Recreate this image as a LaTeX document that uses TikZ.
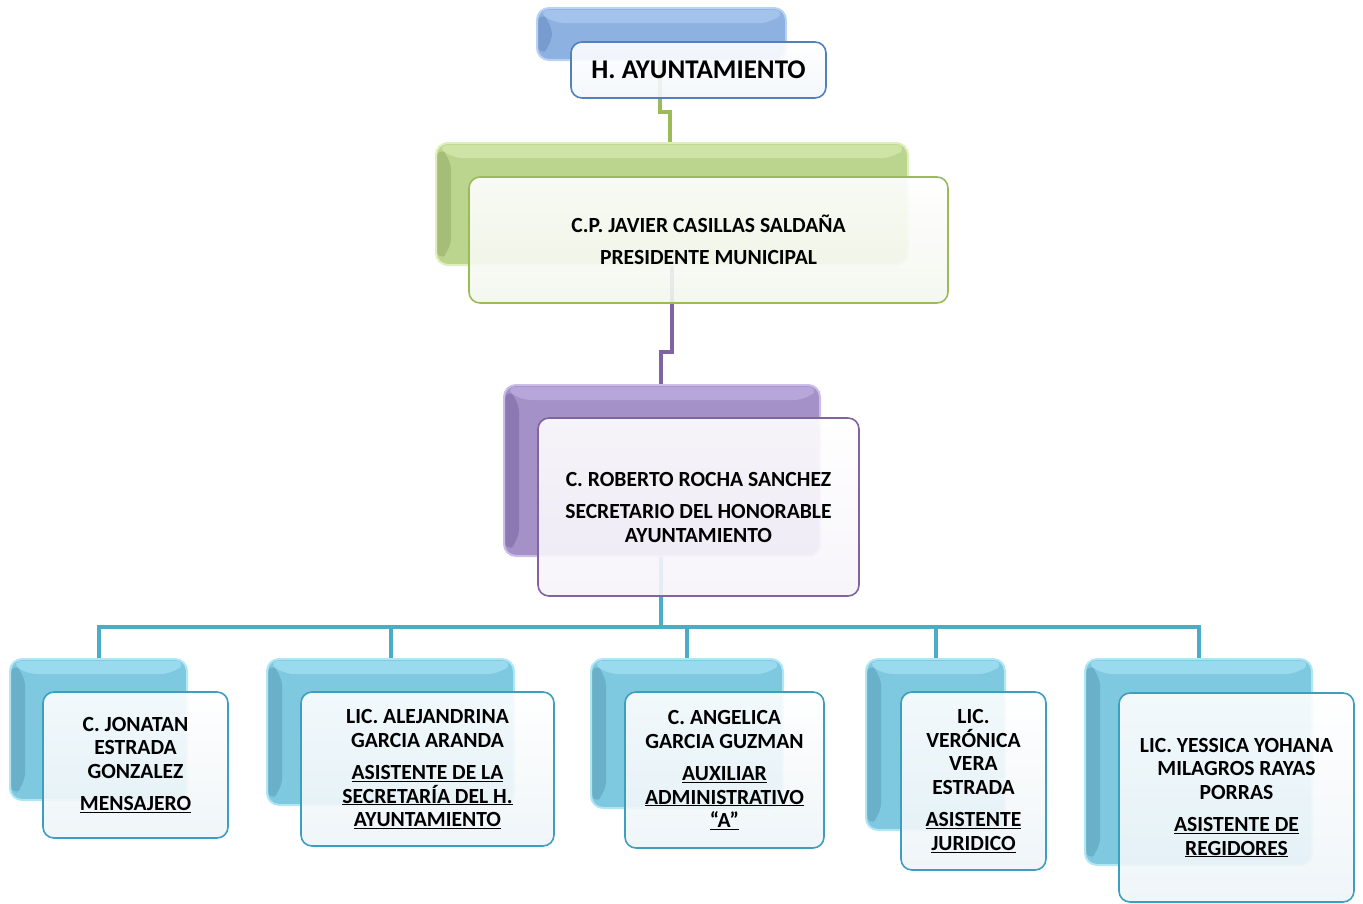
\documentclass[tikz,border=0pt]{standalone}
\usepackage{fontspec}
\setmainfont{Carlito}
\pgfdeclarelayer{bg}
\pgfsetlayers{bg,main}
\definecolor{bluebd}{HTML}{4F81BD}
\definecolor{bluemain}{HTML}{8DB2E2}
\definecolor{bluedark}{HTML}{789CCD}
\definecolor{bluelight}{HTML}{A4C3EC}
\definecolor{bluerim}{HTML}{BAD2F1}
\definecolor{bluetint}{HTML}{F2F6FB}
\definecolor{greenbd}{HTML}{9BBB59}
\definecolor{greenmain}{HTML}{BCD58E}
\definecolor{greendark}{HTML}{A6BD7A}
\definecolor{greenlight}{HTML}{CEE4A6}
\definecolor{greenrim}{HTML}{DDEFBA}
\definecolor{greentint}{HTML}{F3F6EE}
\definecolor{purpbd}{HTML}{8064A2}
\definecolor{purpmain}{HTML}{A391C7}
\definecolor{purpdark}{HTML}{8C79B1}
\definecolor{purplight}{HTML}{B6A6D9}
\definecolor{purprim}{HTML}{CBBCEA}
\definecolor{purptint}{HTML}{F6F3FA}
\definecolor{cyanbd}{HTML}{3E9EBE}
\definecolor{cyanline}{HTML}{4BACC6}
\definecolor{cyanmain}{HTML}{7EC8E0}
\definecolor{cyandark}{HTML}{6AB0C8}
\definecolor{cyanlight}{HTML}{99DAEE}
\definecolor{cyanrim}{HTML}{B0E6F6}
\definecolor{cyantint}{HTML}{EEF4F8}
\begin{document}
\begin{tikzpicture}[x=1pt,y=-1pt,
  backbox/.style={rounded corners=12pt, inner sep=0pt, line width=2pt,
     fill=#1main, draw=#1rim,
     path picture={
       \fill[#1light]
         ([yshift=-2pt]path picture bounding box.north west) --
         ([yshift=-2pt]path picture bounding box.north east) --
         ([xshift=-14pt,yshift=-15pt]path picture bounding box.north east) --
         ([xshift=15pt,yshift=-15pt]path picture bounding box.north west) -- cycle;
       \fill[#1dark]
         ([xshift=1pt,yshift=-3pt]path picture bounding box.north west) --
         ([xshift=15pt,yshift=-15pt]path picture bounding box.north west) --
         ([xshift=15pt,yshift=15pt]path picture bounding box.south west) --
         ([xshift=1pt,yshift=3pt]path picture bounding box.south west) -- cycle;
     }},
  frontbox/.style={rounded corners=11pt, inner sep=2pt, line width=1.6pt, align=center,
     fill opacity=0.9, text opacity=1, font=\fontsize{21.6}{23.5}\selectfont\bfseries,
     draw=#1bd, top color=white, bottom color=#1tint},
  conn/.style={line width=4pt}
]
\useasboundingbox (0,0) rectangle (1363,903);

% back boxes
\node[backbox=blue, minimum width=249pt, minimum height=52pt] (topback) at (661.5,34) {};
\node[backbox=green, minimum width=472pt, minimum height=122pt] (greenback) at (672,204) {};
\node[backbox=purp, minimum width=316pt, minimum height=171pt] (purpback) at (662,470.5) {};
\node[backbox=cyan, minimum width=177pt, minimum height=141pt] (c1back) at (98.5,729.5) {};
\node[backbox=cyan, minimum width=247pt, minimum height=146pt] (c2back) at (390.5,732) {};
\node[backbox=cyan, minimum width=192pt, minimum height=149pt] (c3back) at (687,733.5) {};
\node[backbox=cyan, minimum width=139pt, minimum height=171pt] (c4back) at (935.5,744.5) {};
\node[backbox=cyan, minimum width=227pt, minimum height=206pt] (c5back) at (1198.5,762) {};

% front boxes
\node[frontbox=blue, minimum width=255pt, minimum height=56pt, font=\fontsize{27}{30}\selectfont\bfseries] (ayto) at (698.5,70) {H. AYUNTAMIENTO};
\node[frontbox=green, minimum width=479pt, minimum height=126pt] (pres) at (708.5,240)
  {C.P. JAVIER CASILLAS SALDAÑA\\[9pt]PRESIDENTE MUNICIPAL};
\node[frontbox=purp, minimum width=321pt, minimum height=178pt] (secr) at (698.5,507)
  {C. ROBERTO ROCHA SANCHEZ\\[9pt]SECRETARIO DEL HONORABLE\\AYUNTAMIENTO};
\node[frontbox=cyan, minimum width=185pt, minimum height=146pt] (c1) at (135.5,765)
  {C. JONATAN\\ESTRADA\\GONZALEZ\\[9pt]\underline{MENSAJERO}};
\node[frontbox=cyan, minimum width=253pt, minimum height=154pt] (c2) at (427.5,769)
  {LIC. ALEJANDRINA\\GARCIA ARANDA\\[9pt]\underline{ASISTENTE DE LA}\\\underline{SECRETARÍA DEL H.}\\\underline{AYUNTAMIENTO}};
\node[frontbox=cyan, minimum width=199pt, minimum height=156pt] (c3) at (724.5,770)
  {C. ANGELICA\\GARCIA GUZMAN\\[9pt]\underline{AUXILIAR}\\\underline{ADMINISTRATIVO}\\\underline{“A”}};
\node[frontbox=cyan, minimum width=145pt, minimum height=178pt] (c4) at (973.5,781)
  {LIC.\\VERÓNICA\\VERA\\ESTRADA\\[9pt]\underline{ASISTENTE}\\\underline{JURIDICO}};
\node[frontbox=cyan, minimum width=235pt, minimum height=209pt] (c5) at (1236.5,797.5)
  {LIC. YESSICA YOHANA\\MILAGROS RAYAS\\PORRAS\\[9pt]\underline{ASISTENTE DE}\\\underline{REGIDORES}};

% connector bend points
\coordinate (g1) at (660,112);
\coordinate (g2) at (670,112);
\coordinate (p1) at (672,352);
\coordinate (p2) at (661,352);
\coordinate (bb) at (661,627);

\begin{pgfonlayer}{bg}
\draw[conn, greenbd] (topback.south -| g1) -- (g1) -- (g2) -- (greenback.north -| g2);
\draw[conn, purpbd] (greenback.south -| p1) -- (p1) -- (p2) -- (purpback.north -| p2);
\draw[conn, cyanline] (purpback.south -| bb) -- (bb);
\draw[conn, cyanline] (c1back.north) -- (c1back.north |- bb) -- (c5back.north |- bb) -- (c5back.north);
\draw[conn, cyanline] (c2back.north) -- (c2back.north |- bb);
\draw[conn, cyanline] (c3back.north) -- (c3back.north |- bb);
\draw[conn, cyanline] (c4back.north) -- (c4back.north |- bb);
\end{pgfonlayer}
\end{tikzpicture}
\end{document}
